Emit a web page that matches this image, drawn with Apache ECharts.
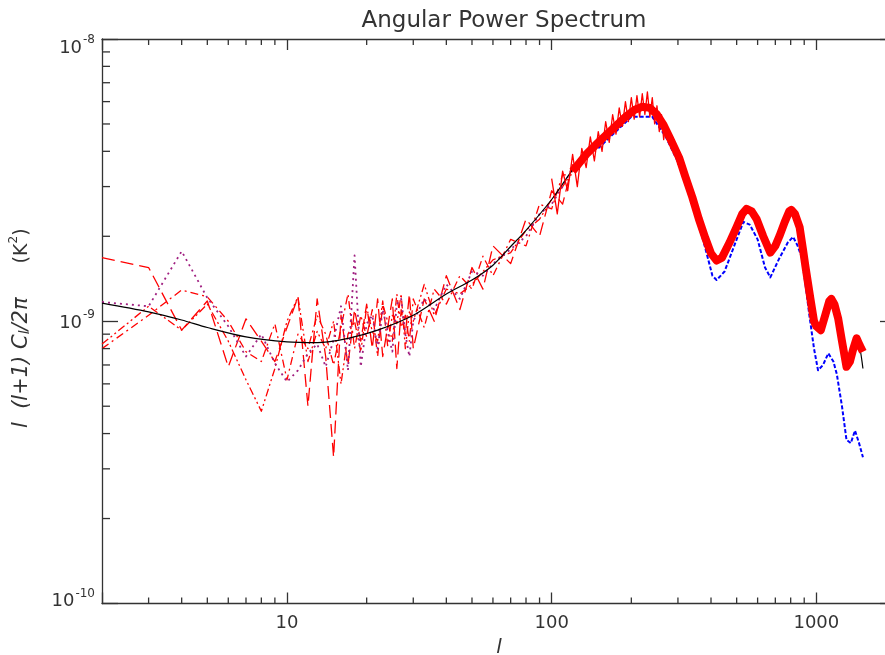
<!DOCTYPE html>
<html><head><meta charset="utf-8">
<script src="https://cdn.jsdelivr.net/npm/echarts@6/dist/echarts.min.js"></script>
<style>html,body{margin:0;padding:0;background:#fff}#c{width:885px;height:655px}</style>
</head><body><div id="c"></div>
<script>
// values in units of 1e-9 K^2
const UNIT = 1e-9;
const lLow = [2,3,4,5,6,7,8,9,10,11,12,13,14,15,16,17,18,19,20,21,22,23,24,25,26,27,28,29,30,33,36,40,45,50,55,60,70,80,90,100,110,120];
const dashedVals = [1.68,1.55,0.93,1.18,0.69,1.02,0.85,0.72,0.95,1.22,0.50,1.20,0.75,0.33,1.05,0.70,1.10,0.85,1.15,0.80,1.20,0.75,0.95,1.20,0.68,1.10,0.90,1.25,0.80,1.20,1.00,1.45,1.10,1.55,1.30,1.85,1.60,2.30,2.00,2.90,2.60,3.60];
const dashDotVals = [0.80,1.05,1.29,1.22,1.00,0.78,0.72,0.98,0.62,0.90,0.80,1.05,0.90,0.70,0.95,1.25,0.80,1.05,0.88,1.10,0.75,1.15,1.00,0.85,1.25,0.95,1.05,0.85,1.20,0.95,1.30,1.15,1.45,1.30,1.70,1.45,1.95,1.85,2.60,2.50,3.30,3.30];
const dashDotDotVals = [0.83,1.13,0.93,1.15,0.85,0.62,0.48,0.68,1.00,1.22,0.72,0.92,0.80,1.00,0.60,0.90,1.00,0.78,1.12,0.92,0.85,1.18,0.82,1.05,0.98,1.25,0.80,1.08,1.00,1.35,1.05,1.30,1.25,1.35,1.50,1.65,1.75,2.10,2.30,2.70,3.00,3.40];
const dottedVals = [1.17,1.13,1.77,1.21,0.96,0.75,0.90,0.71,0.61,0.67,0.77,0.83,0.69,0.86,1.13,0.67,1.71,0.69,0.98,1.05,0.80,1.10,0.92,0.78,1.15,1.20,0.90,0.75,1.00,1.20,1.10,1.35,1.20,1.50,1.45,1.60,1.80,2.00,2.40,2.60,3.00,3.50];

const lTheory = [2,3,4,5,7,10,13,17,22,30,40,50,60,70,80,100,128,170,203,220,241,271,303,340,373,405,420,444,500,545,595,670,725,805,865,910,1000,1060,1140,1210,1300,1420,1500];
const theoryVals = [1.16,1.08,1.01,0.95,0.88,0.845,0.84,0.87,0.93,1.05,1.25,1.40,1.58,1.84,2.10,2.70,3.72,4.76,5.60,5.75,5.53,4.76,3.83,2.76,2.10,1.69,1.62,1.69,2.16,2.50,2.34,1.72,1.99,2.45,2.16,1.56,0.98,0.955,1.20,1.03,0.70,0.87,0.68];

const lBand = [120,135,150,170,190,205,220,235,250,265,280,303,320,340,360,380,400,420,440,470,500,525,545,570,595,630,670,700,725,760,790,805,830,865,890,910,950,980,1000,1040,1080,1120,1140,1170,1210,1250,1300,1340,1380,1420,1460,1500];
const bandVals = [3.40,3.90,4.30,4.80,5.30,5.60,5.75,5.70,5.40,4.95,4.45,3.80,3.25,2.75,2.30,1.98,1.74,1.64,1.68,1.90,2.16,2.40,2.50,2.45,2.30,2.00,1.75,1.85,2.00,2.25,2.45,2.48,2.40,2.15,1.80,1.56,1.20,1.00,0.96,0.93,1.05,1.18,1.20,1.15,1.02,0.85,0.69,0.72,0.80,0.87,0.82,0.78];

const lPeak = [100,105,110,115,120,125,130,135,140,145,150,155,160,165,170,175,180,185,190,195,200,205,210,215,220,225,230,235,240,245,250,255,260,265,270,280,290,300,310,320];
const peakVals = [3.2,2.4,3.4,2.9,3.9,3.0,4.1,3.5,4.5,3.7,4.7,4.0,5.1,4.3,5.4,4.6,5.7,4.9,6.0,5.1,6.2,5.2,6.3,5.3,6.4,5.4,6.5,5.3,6.2,5.0,5.8,4.7,5.4,4.4,5.0,4.2,4.4,3.6,3.7,3.1];

const lBlue = [150,200,240,270,303,340,373,405,420,450,500,530,560,600,640,670,720,780,817,850,880,910,940,980,1015,1060,1110,1160,1195,1250,1300,1350,1400,1450,1500];
const blueVals = [4.1,5.3,5.3,4.5,3.6,2.6,1.95,1.45,1.40,1.50,1.95,2.25,2.20,1.95,1.55,1.43,1.65,1.90,1.99,1.85,1.69,1.35,1.06,0.80,0.67,0.70,0.77,0.72,0.65,0.50,0.38,0.37,0.41,0.37,0.33];

const xMajorLabels = [10, 100, 1000];
const xMinorTicks = [3,4,5,6,7,8,9,20,30,40,50,60,70,80,90,200,300,400,500,600,700,800,900];
const yMinorTicks = [2e-10,3e-10,4e-10,5e-10,6e-10,7e-10,8e-10,9e-10,2e-9,3e-9,4e-9,5e-9,6e-9,7e-9,8e-9,9e-9];
const X_MIN = 2, X_MAX = 2000, Y_MIN = 1e-10, Y_MAX = 1e-8;

const pairs = (ls, vs) => ls.map((l, i) => [l, vs[i] * UNIT]);
const AX = '#333';
const FONT = 'DejaVu Sans';

const chart = echarts.init(document.getElementById('c'), null, {renderer: 'canvas'});

function yLabel(v) {
  const e = Math.round(Math.log10(v));
  if (e === -8) return '{p| }{n|10}{s|' + e + '}';
  if (e === -10) return '{n2|10}{s2|' + e + '}';
  return '{n|10}{s|' + e + '}';
}
const yRich = {
  p: {fontSize: 1, lineHeight: 36, verticalAlign: 'bottom'},
  n: {fontSize: 18, lineHeight: 22, verticalAlign: 'bottom', color: AX, fontFamily: FONT},
  s: {fontSize: 12, lineHeight: 12, padding: [0, 0, 11, 1], verticalAlign: 'bottom', color: AX, fontFamily: FONT},
  n2: {fontSize: 18, lineHeight: 22, padding: [0, 0, 4, 0], verticalAlign: 'bottom', color: AX, fontFamily: FONT},
  s2: {fontSize: 12, lineHeight: 12, padding: [0, 0, 15, 1], verticalAlign: 'bottom', color: AX, fontFamily: FONT}
};

const baseX = {
  type: 'log', logBase: 10, min: X_MIN, max: X_MAX,
  axisLine: {show: true, lineStyle: {color: AX, width: 1.3}},
  axisTick: {show: true, inside: true, length: 11, lineStyle: {color: AX, width: 1.3}},
  splitLine: {show: false}, minorTick: {show: false}, minorSplitLine: {show: false}
};
const baseY = {
  type: 'log', logBase: 10, min: Y_MIN, max: Y_MAX,
  axisLine: {show: true, lineStyle: {color: AX, width: 1.3}},
  axisTick: {show: true, inside: true, length: 16, lineStyle: {color: AX, width: 1.3}},
  splitLine: {show: false}, minorTick: {show: false}, minorSplitLine: {show: false}
};

function lineSeries(name, data, color, width, type, z, smooth) {
  return {
    name, type: 'line', data, showSymbol: false, symbol: 'none', smooth: smooth || false,
    lineStyle: {color, width, type, cap: 'butt', join: 'round'}, z, silent: true, animation: false
  };
}

const option = {
  animation: false,
  backgroundColor: '#fff',
  title: {
    text: 'Angular Power Spectrum', left: 499, top: 5, textAlign: 'center',
    textStyle: {fontFamily: FONT, fontSize: 23, fontWeight: 'normal', color: AX}
  },
  grid: {left: 102, top: 39, width: 794, height: 564.5, containLabel: false, outerBoundsMode: 'none'},
  xAxis: [
    Object.assign({}, baseX, {
      position: 'bottom',
      name: 'l', nameLocation: 'middle', nameGap: 33,
      nameTextStyle: {fontFamily: FONT, fontStyle: 'italic', fontSize: 20, color: AX},
      axisLabel: {
        show: true, margin: 11, color: AX, fontFamily: FONT, fontSize: 18,
        formatter: v => (xMajorLabels.indexOf(Math.round(v)) >= 0 ? String(Math.round(v)) : '')
      }
    }),
    Object.assign({}, baseX, {position: 'top', axisLabel: {show: false}})
  ],
  yAxis: [
    Object.assign({}, baseY, {
      position: 'left',
      name: '{it|l  (l+1) C}{sub|l}{it|/2π}{sp| }{n|(K}{sup|2}{n|)}',
      nameLocation: 'middle', nameRotate: 90, nameGap: 70,
      nameTextStyle: {
        color: AX,
        padding: [0, 14, 0, 0],
        rich: {
          it: {fontFamily: FONT, fontStyle: 'italic', fontSize: 21, color: AX, lineHeight: 26, verticalAlign: 'bottom'},
          sub: {fontFamily: FONT, fontStyle: 'italic', fontSize: 14, color: AX, lineHeight: 22, verticalAlign: 'bottom'},
          sp: {fontSize: 10, width: 34},
          n: {fontFamily: FONT, fontSize: 19, color: AX, lineHeight: 26, verticalAlign: 'bottom'},
          sup: {fontFamily: FONT, fontSize: 12, color: AX, lineHeight: 12, padding: [0, 0, 12, 0], verticalAlign: 'bottom'}
        }
      },
      axisLabel: {show: true, margin: 7, formatter: yLabel, rich: yRich}
    }),
    Object.assign({}, baseY, {position: 'right', axisLabel: {show: false}})
  ],
  series: [
    lineSeries('dashed', pairs(lLow, dashedVals), '#ff0000', 1.3, [13, 6], 2),
    lineSeries('dash-dot', pairs(lLow, dashDotVals), '#ff0000', 1.3, [8, 4, 2, 4], 2),
    lineSeries('dash-dot-dot', pairs(lLow, dashDotDotVals), '#ff0000', 1.3, [8, 3, 2, 3, 2, 3], 2),
    lineSeries('dotted', pairs(lLow, dottedVals), '#a01f80', 1.8, [2, 4], 3),
    lineSeries('theory', pairs(lTheory, theoryVals), '#000000', 1.2, 'solid', 4, 0.3),
    lineSeries('blue', pairs(lBlue, blueVals), '#0000ff', 2, [4, 2], 5),
    lineSeries('peak', pairs(lPeak, peakVals), '#ff0000', 1.3, 'solid', 6),
    lineSeries('band', pairs(lBand, bandVals), '#ff0000', 8, 'solid', 7),
    {
      type: 'custom', name: 'xminor', coordinateSystem: 'cartesian2d', clip: false, silent: true, z: 20,
      data: xMinorTicks.map(v => [v, Y_MIN]),
      renderItem: (params, api) => {
        const v = api.value(0);
        const b = api.coord([v, Y_MIN]);
        const t = api.coord([v, Y_MAX]);
        const st = {stroke: AX, lineWidth: 1.3};
        return {type: 'group', children: [
          {type: 'line', shape: {x1: b[0], y1: b[1], x2: b[0], y2: b[1] - 6}, style: st},
          {type: 'line', shape: {x1: t[0], y1: t[1], x2: t[0], y2: t[1] + 6}, style: st}
        ]};
      }
    },
    {
      type: 'custom', name: 'yminor', coordinateSystem: 'cartesian2d', clip: false, silent: true, z: 20,
      data: yMinorTicks.map(v => [X_MIN, v]),
      renderItem: (params, api) => {
        const v = api.value(1);
        const l = api.coord([X_MIN, v]);
        const r = api.coord([X_MAX, v]);
        const st = {stroke: AX, lineWidth: 1.3};
        return {type: 'group', children: [
          {type: 'line', shape: {x1: l[0], y1: l[1], x2: l[0] + 8, y2: l[1]}, style: st},
          {type: 'line', shape: {x1: r[0], y1: r[1], x2: r[0] - 8, y2: r[1]}, style: st}
        ]};
      }
    }
  ]
};
chart.setOption(option);
</script>
</body></html>
